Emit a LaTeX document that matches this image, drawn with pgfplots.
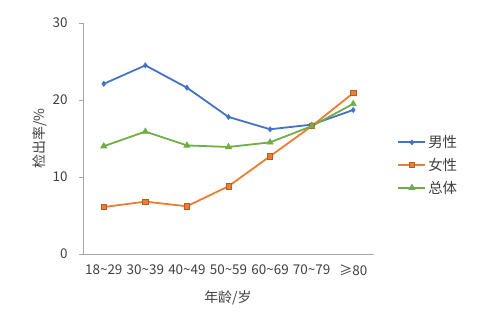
\documentclass[border=0pt]{standalone}
\usepackage{pgfplots}
\pgfplotsset{compat=1.18}
\usepackage{fontspec}
\setmainfont{Noto Sans CJK SC}
\definecolor{cblue}{HTML}{4472C4}
\definecolor{corange}{HTML}{ED7D31}
\definecolor{cgreen}{HTML}{70AD47}
\definecolor{caxis}{HTML}{A6A6A6}
\definecolor{ctext}{HTML}{404040}
\begin{document}
\begin{tikzpicture}
\path[use as bounding box] (0,0) rectangle (500bp,325bp);
\begin{axis}[
  at={(83bp,71bp)}, anchor=south west,
  scale only axis, width=291bp, height=231bp,
  xmin=-0.5, xmax=6.5, ymin=0, ymax=30,
  axis x line*=bottom, axis y line*=left,
  axis line style={caxis, line width=0.8pt, -},
  xtick={0,...,6},
  xticklabels={18\textasciitilde29,30\textasciitilde39,40\textasciitilde49,50\textasciitilde59,60\textasciitilde69,70\textasciitilde79,≥80},
  major x tick style={draw=none},
  extra x ticks={-0.5,0.5,1.5,2.5,3.5,4.5,5.5,6.5},
  extra x tick labels={},
  extra x tick style={tick style={caxis, line width=0.8pt}, major tick length=4bp, tick align=outside},
  ytick={0,10,20,30},
  ytick style={caxis, line width=0.8pt},
  major tick length=4bp, tick align=outside,
  tick label style={font=\fontsize{13.5}{15}\selectfont, text=ctext},
  /pgf/number format/assume math mode=true,
  xticklabel style={yshift=-3bp},
  yticklabel style={xshift=-8bp},
  xlabel={年龄/岁}, ylabel={检出率/\%},
  label style={font=\fontsize{14}{16}\selectfont, text=ctext},
  xlabel style={at={(axis description cs:0.498,-0.19)}, anchor=center},
  ylabel style={at={(axis description cs:-0.148,0.5)}, anchor=center},
  legend style={at={(1.07,0.385)}, anchor=west, draw=none, fill=none,
    font=\fontsize{14.5}{16}\selectfont, text=ctext, row sep=5bp,
    legend cell align=left},
  legend image code/.code={
    \draw[#1] (0cm,0cm) -- (0.95cm,0cm);
    \draw[#1, only marks] plot coordinates {(0.475cm,0cm)};
  },
  every axis plot/.append style={line width=1.8pt},
]
\addplot[cblue, mark=diamond*, mark size=2.6pt, mark options={fill=cblue, line width=0.6pt}]
  coordinates {(0,22.1) (1,24.5) (2,21.6) (3,17.8) (4,16.2) (5,16.8) (6,18.7)};
\addlegendentry{男性}
\addplot[corange, mark=square*, mark size=2.6pt, mark options={fill=corange, draw=corange!75!black, line width=0.6pt}]
  coordinates {(0,6.1) (1,6.8) (2,6.2) (3,8.8) (4,12.7) (5,16.6) (6,20.9)};
\addlegendentry{女性}
\addplot[cgreen, mark=triangle*, mark size=3.6pt, mark options={fill=cgreen, line width=0.6pt}]
  coordinates {(0,14.0) (1,15.9) (2,14.1) (3,13.9) (4,14.5) (5,16.6) (6,19.5)};
\addlegendentry{总体}
\end{axis}
\end{tikzpicture}
\end{document}
